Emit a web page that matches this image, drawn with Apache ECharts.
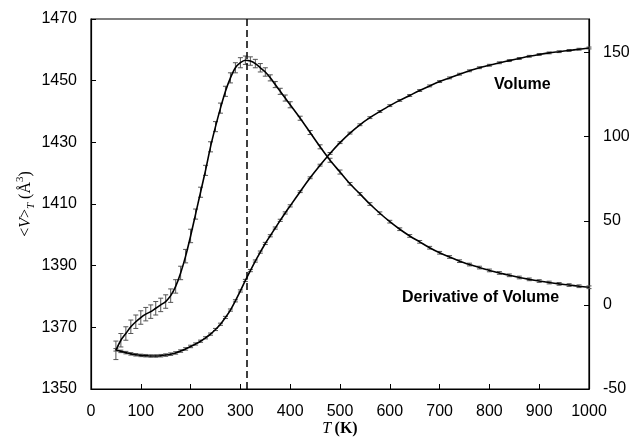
<!DOCTYPE html>
<html><head><meta charset="utf-8">
<script src="https://cdn.jsdelivr.net/npm/echarts@6/dist/echarts.min.js"></script>
<style>html,body{margin:0;padding:0;background:#fff}#c{width:630px;height:438px}</style>
</head><body><div id="c"></div>
<script>
const temps = [50,60,70,80,90,100,110,120,130,140,150,160,170,180,190,200,210,220,230,240,250,260,270,280,290,300,310,320,330,340,350,360,370,380,390,400,
  420,440,460,480,500,520,540,560,580,600,620,640,660,680,700,720,740,760,780,800,820,840,860,880,900,920,940,960,980,1000];
const volume = [1362.7,1362.2,1361.8,1361.4,1361.1,1360.9,1360.8,1360.7,1360.7,1360.8,1361.0,1361.3,1361.7,1362.3,1363.0,1363.8,1364.6,1365.5,1366.6,1367.8,1369.3,1371.0,1373.2,1375.6,1378.6,1381.8,1385.2,1388.4,1391.5,1394.4,1397.2,1399.7,1402.2,1404.7,1407.1,1409.4,
  1414.0,1418.5,1422.6,1426.4,1429.9,1433.0,1435.7,1438.0,1440.0,1441.9,1443.6,1445.2,1446.8,1448.3,1449.7,1450.9,1452.1,1453.2,1454.2,1455.0,1455.8,1456.5,1457.2,1457.9,1458.5,1459.0,1459.4,1459.8,1460.2,1460.6];
const volumeErr = [0.4,0.4,0.4,0.4,0.4,0.4,0.4,0.4,0.4,0.4,0.4,0.4,0.4,0.4,0.4,0.4,
  0.35,0.35,0.35,0.35,0.35,0.35,0.35,0.35,0.35,0.35,0.35,0.35,0.35,0.35,0.35,0.35,0.35,0.35,0.35,0.35,
  0.3,0.3,0.3,0.3,0.3,0.3,0.3,0.3,0.3,0.3,0.3,0.3,0.3,0.3,0.3,0.3,0.3,0.3,0.3,0.3,0.3,0.3,0.3,0.3,0.3,0.3,0.3,0.3,0.3,0.3];
const derivative = [-27,-21,-17,-13,-10,-7.5,-5.5,-4,-2,0,2,5.5,11,19,29,41,54,67,80,94,106,117,127,135,141,144,145.5,145,143.5,141,138.5,135,131,127,123,119,
  111,102.5,94,86,79,72,66,60,54.5,49.5,45,41,37.5,34,31,28.5,26,24,22.2,20.5,19,17.6,16.3,15.2,14.2,13.3,12.5,11.8,11.1,10.5];
const derivativeErr = [5.5,4,4,4,4,4,4,4,4,4,4,4,4,4,4,4,
  3,3,3,3,3,3,3,3,3,3,
  2.5,2.5,2.5,2.5,2.5,
  1.8,1.8,1.8,1.8,1.8,
  1.2,1.2,1.2,1.2,1.2,
  0.8,0.8,0.8,0.8,0.8,0.8,0.8,0.8,0.8,0.8,0.8,0.8,0.8,0.8,0.8,0.8,0.8,0.8,0.8,0.8,0.8,0.8,0.8,0.8,0.8];
const transitionT = 313;
const xTicks = [0,100,200,300,400,500,600,700,800,900,1000];
const leftTicks = [1350,1370,1390,1410,1430,1450,1470];
const rightTicks = [-50,0,50,100,150];

const volLine = temps.map((t,i)=>[t, volume[i]]);
const derLine = temps.map((t,i)=>[t, derivative[i]]);
const volBars = temps.map((t,i)=>[t, volume[i]-volumeErr[i], volume[i]+volumeErr[i]]);
const derBars = temps.map((t,i)=>[t, derivative[i]-derivativeErr[i], derivative[i]+derivativeErr[i]]);

function errRender(params, api){
  const x = api.value(0), lo = api.value(1), hi = api.value(2);
  const a = api.coord([x, lo]), b = api.coord([x, hi]);
  const w = 2.5;
  const st = {stroke:'#555', lineWidth:1};
  return {type:'group', children:[
    {type:'line', shape:{x1:a[0],y1:a[1],x2:b[0],y2:b[1]}, style:st},
    {type:'line', shape:{x1:a[0]-w,y1:a[1],x2:a[0]+w,y2:a[1]}, style:st},
    {type:'line', shape:{x1:b[0]-w,y1:b[1],x2:b[0]+w,y2:b[1]}, style:st}
  ]};
}

const plain = v => String(v);
const labelFont = {color:'#000', fontSize:16, fontFamily:'Liberation Sans, Arial, sans-serif', formatter:plain};
const chart = echarts.init(document.getElementById('c'), null, {renderer:'canvas'});
chart.setOption({
  animation:false,
  backgroundColor:'#fff',
  grid:{left:91, right:41, top:19, bottom:49, show:true, borderColor:'#000', borderWidth:1.2,
    containLabel:false, outerBoundsMode:'none'},
  xAxis:{type:'value', min:0, max:1000, interval:100,
    axisLine:{show:true, onZero:false, lineStyle:{color:'#000', width:1.2}},
    axisTick:{show:true, inside:true, length:5, lineStyle:{color:'#000'}, customValues:xTicks},
    axisLabel:Object.assign({margin:15, customValues:xTicks}, labelFont),
    splitLine:{show:false},
    name:'{i|T} {b|(K)}', nameLocation:'middle', nameGap:32, nameMoveOverlap:false,
    nameTextStyle:{rich:{
      i:{fontFamily:'Liberation Serif, serif', fontStyle:'italic', fontSize:16, color:'#000'},
      b:{fontFamily:'Liberation Serif, serif', fontWeight:'bold', fontSize:16, color:'#000'}}}
  },
  yAxis:[
    {type:'value', min:1350, max:1470, interval:20, position:'left',
      axisLine:{show:true, onZero:false, lineStyle:{color:'#000', width:1.2}},
      axisTick:{show:true, inside:true, length:5, lineStyle:{color:'#000'}, customValues:leftTicks},
      axisLabel:Object.assign({margin:14, customValues:leftTicks}, labelFont),
      splitLine:{show:false},
      name:'{n|<}{i|V}{n|>}{s|T}{n| (Å}{p|3}{n|)}', nameLocation:'middle', nameGap:54, nameRotate:90, nameMoveOverlap:false,
      nameTextStyle:{rich:{
        n:{fontFamily:'Liberation Serif, serif', fontSize:16, color:'#000', lineHeight:22},
        i:{fontFamily:'Liberation Serif, serif', fontStyle:'italic', fontSize:16, color:'#000', lineHeight:22},
        s:{fontFamily:'Liberation Serif, serif', fontStyle:'italic', fontSize:11, color:'#000', verticalAlign:'bottom', lineHeight:22},
        p:{fontFamily:'Liberation Serif, serif', fontSize:11, color:'#000', verticalAlign:'top', lineHeight:22}}}
    },
    {type:'value', min:-50, max:170, interval:50, position:'right',
      axisLine:{show:true, onZero:false, lineStyle:{color:'#000', width:1.2}},
      axisTick:{show:true, inside:true, length:5, lineStyle:{color:'#000'}, customValues:rightTicks},
      axisLabel:Object.assign({margin:14, customValues:rightTicks}, labelFont),
      splitLine:{show:false}
    }
  ],
  series:[
    {type:'custom', name:'volErr', yAxisIndex:0, renderItem:errRender, data:volBars, encode:{x:0, y:[1,2]}, z:2, silent:true},
    {type:'custom', name:'derErr', yAxisIndex:1, renderItem:errRender, data:derBars, encode:{x:0, y:[1,2]}, z:2, silent:true},
    {type:'line', name:'Volume', yAxisIndex:0, data:volLine, smooth:0.3, showSymbol:false,
      lineStyle:{color:'#000', width:1.6}, z:3,
      markLine:{silent:true, symbol:['none','none'], label:{show:false},
        lineStyle:{color:'#000', type:[7,4], width:1.5},
        data:[{xAxis:transitionT}]}},
    {type:'line', name:'Derivative of Volume', yAxisIndex:1, data:derLine, smooth:0.3, showSymbol:false,
      lineStyle:{color:'#000', width:1.6}, z:3}
  ],
  graphic:[
    {type:'text', left:494, top:77, style:{text:'Volume', fill:'#000', font:'bold 16px Liberation Sans, Arial, sans-serif'}},
    {type:'text', left:402, top:290, style:{text:'Derivative of Volume', fill:'#000', font:'bold 16px Liberation Sans, Arial, sans-serif'}}
  ]
});
</script>
</body></html>
